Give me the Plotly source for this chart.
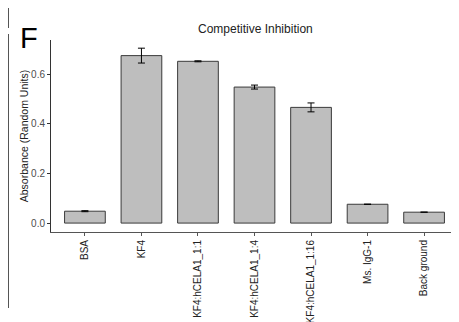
import plotly.graph_objects as go

# data
samples = ["BSA", "KF4", "KF4:hCELA1_1:1", "KF4:hCELA1_1:4",
           "KF4:hCELA1_1:16", "Ms. IgG-1", "Back ground"]
absorbance = [0.048, 0.676, 0.653, 0.549, 0.467, 0.076, 0.044]
abs_sd = [0.002, 0.030, 0.002, 0.008, 0.018, 0, 0]
y_ticks = [0.0, 0.2, 0.4, 0.6]
y_tick_labels = ["0.0", "0.2", "0.4", "0.6"]

# page body adds an 8px margin, so the figure is drawn 8px in and 8px down
OFF = 8
W, H = 459 - OFF, 322 - OFF
L, R, T, B = 43, 1, 32, 90
pw, ph = W - L - R, H - T - B


def px_x(x):
    # screen pixel -> paper x
    return (x - OFF - L) / pw


def px_y(y):
    # screen pixel -> paper y
    return (H - B - (y - OFF)) / ph


fig = go.Figure()
fig.add_trace(go.Bar(
    x=samples, y=absorbance, width=0.72,
    marker=dict(color="#bebebe", line=dict(color="#3a3a3a", width=1)),
    error_y=dict(type="data", array=abs_sd, color="black",
                 thickness=1, width=3.5),
))

# edge of the neighbouring panel cut into the picture
shapes = [
    dict(type="line", xref="paper", yref="paper", x0=px_x(8.5), x1=px_x(8.5),
         y0=px_y(8), y1=px_y(28), line=dict(color="#555", width=1)),
    dict(type="line", xref="paper", yref="paper", x0=px_x(8.5), x1=px_x(8.5),
         y0=px_y(34), y1=px_y(308), line=dict(color="#555", width=1)),
]

fig.update_layout(
    width=W, height=H,
    margin=dict(l=L, r=R, t=T, b=B, autoexpand=False),
    plot_bgcolor="white", paper_bgcolor="white",
    font=dict(family="Liberation Sans, Arial, sans-serif", color="#222"),
    showlegend=False,
    shapes=shapes,
    annotations=[
        dict(text="Competitive Inhibition", xref="paper", yref="paper",
             x=px_x(255), y=px_y(28.5), xanchor="center", yanchor="middle",
             showarrow=False, font=dict(size=12, color="#222")),
        dict(text="F", xref="paper", yref="paper", x=px_x(18), y=px_y(38),
             xanchor="left", yanchor="middle", showarrow=False,
             font=dict(size=29, color="black")),
    ],
    xaxis=dict(
        range=[-0.6, 6.6], tickangle=-90, showline=True, linecolor="#555",
        linewidth=1, ticks="outside", ticklen=3, tickcolor="#555",
        tickfont=dict(size=10, color="#222"), showgrid=False,
        automargin=False,
    ),
    yaxis=dict(
        range=[-0.036, 0.739], tickvals=y_ticks, ticktext=y_tick_labels,
        showline=True, linecolor="#333", linewidth=1, ticks="outside",
        ticklen=3, tickcolor="#333", tickfont=dict(size=10, color="#4d4d4d"),
        showgrid=False, zeroline=False, automargin=False,
        title=dict(text="Absorbance (Random Units)",
                   font=dict(size=10.5, color="#222"), standoff=0),
    ),
)

fig.write_html("out.html")
